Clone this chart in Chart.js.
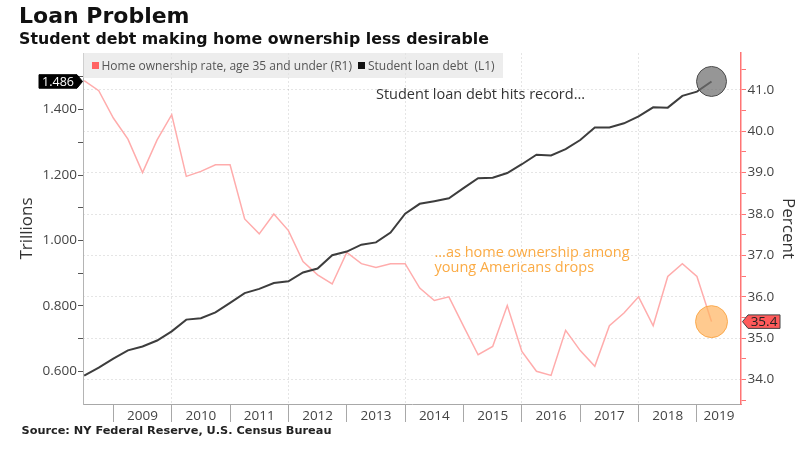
<!DOCTYPE html>
<html>
<head>
<meta charset="UTF-8">
<title>Loan Problem</title>
<script src="https://cdn.jsdelivr.net/npm/chart.js"></script>
<style>
  html, body { margin: 0; padding: 0; background: #fff; }
  #wrap { position: relative; width: 800px; height: 460px; overflow: hidden; }
  canvas { position: absolute; left: 0; top: 0; }
  .head { position: absolute; white-space: nowrap; font-family: "DejaVu Sans", sans-serif; font-weight: bold; color: #111; }
  #title { left: 19px; top: 5.4px; font-size: 22px; line-height: 22px; }
  #subtitle { left: 19px; top: 30.9px; font-size: 15.8px; line-height: 15.8px; }
  #source { left: 21.5px; top: 424.7px; font-size: 11.3px; line-height: 11.3px; color: #222; }
  #legend {
    position: absolute; left: 83px; top: 53px; width: 420px; height: 25px;
    background: rgba(225,225,225,0.6); font-family: "Open Sans", sans-serif; font-size: 12px; color: #555;
  }
  .item { position: absolute; top: 0; height: 25px; display: flex; align-items: center; white-space: nowrap; }
  .sq { width: 7px; height: 7px; margin-right: 3px; }
</style>
</head>
<body>
<div id="wrap">
  <canvas id="chart" width="800" height="460"></canvas>
  <div id="title" class="head">Loan Problem</div>
  <div id="subtitle" class="head">Student debt making home ownership less desirable</div>
  <div id="legend">
    <div class="item" style="left:8.5px"><span class="sq" style="background:#ff6262"></span>Home ownership rate, age 35 and under (R1)</div>
    <div class="item" style="left:275px"><span class="sq" style="background:#111"></span>Student loan debt&nbsp; (L1)</div>
  </div>
  <div id="source" class="head">Source: NY Federal Reserve, U.S. Census Bureau</div>
</div>
<script>
  // quarterly data, plotted at quarter end
  const quarters = [
    '2008 Q2', '2008 Q3', '2008 Q4',
    '2009 Q1', '2009 Q2', '2009 Q3', '2009 Q4',
    '2010 Q1', '2010 Q2', '2010 Q3', '2010 Q4',
    '2011 Q1', '2011 Q2', '2011 Q3', '2011 Q4',
    '2012 Q1', '2012 Q2', '2012 Q3', '2012 Q4',
    '2013 Q1', '2013 Q2', '2013 Q3', '2013 Q4',
    '2014 Q1', '2014 Q2', '2014 Q3', '2014 Q4',
    '2015 Q1', '2015 Q2', '2015 Q3', '2015 Q4',
    '2016 Q1', '2016 Q2', '2016 Q3', '2016 Q4',
    '2017 Q1', '2017 Q2', '2017 Q3', '2017 Q4',
    '2018 Q1', '2018 Q2', '2018 Q3', '2018 Q4',
    '2019 Q1'
  ];
  // Student loan debt, trillions (L1)
  const studentDebt = [
    0.587, 0.611, 0.639,
    0.664, 0.676, 0.694, 0.722,
    0.758, 0.762, 0.780, 0.809,
    0.839, 0.852, 0.870, 0.875,
    0.902, 0.914, 0.955, 0.966,
    0.987, 0.994, 1.024, 1.082,
    1.112, 1.120, 1.129, 1.160,
    1.190, 1.192, 1.206, 1.233,
    1.262, 1.260, 1.279, 1.307,
    1.345, 1.345, 1.358, 1.379,
    1.407, 1.406, 1.442, 1.455,
    1.486
  ];
  // Home ownership rate, age 35 and under, percent (R1)
  const homeOwnership = [
    41.22, 40.98, 40.32,
    39.81, 39.00, 39.79, 40.40,
    38.91, 39.03, 39.19, 39.19,
    37.88, 37.52, 38.00, 37.60,
    36.85, 36.53, 36.31, 37.07,
    36.80, 36.71, 36.80, 36.80,
    36.21, 35.91, 36.00, 35.29,
    34.60, 34.80, 35.79, 34.68,
    34.20, 34.10, 35.19, 34.70,
    34.32, 35.30, 35.61, 36.00,
    35.30, 36.49, 36.80, 36.49,
    35.40
  ];
  const yearLabels = ['2009', '2010', '2011', '2012', '2013', '2014', '2015', '2016', '2017', '2018', '2019'];
  const debtTicks = [0.6, 0.7, 0.8, 0.9, 1.0, 1.1, 1.2, 1.3, 1.4, 1.5];
  const percentTicks = [33.5, 34, 34.5, 35, 35.5, 36, 36.5, 37, 37.5, 38, 38.5, 39, 39.5, 40, 40.5, 41, 41.5];

  const X_MIN = 2008.48, X_MAX = 2019.755;
  const qx = q => +q.slice(0, 4) + +q.slice(-1) / 4;

  const xTicks = [];
  yearLabels.forEach(y => {
    const start = +y;
    xTicks.push({ value: start, sep: true, even: start % 2 === 0, text: '' });
    xTicks.push({ value: (start + Math.min(start + 1, X_MAX)) / 2, sep: false, text: y });
  });
  xTicks.sort((a, b) => a.value - b.value);

  const tickFont = { family: 'Open Sans', size: 13.5 };
  const dotted = 'rgba(0,0,0,0.1)';
  const none = 'rgba(0,0,0,0)';
  const axisRed = '#ff7474';

  function circle(ctx, x, y, r, fill, stroke) {
    ctx.beginPath();
    ctx.arc(x, y, r, 0, Math.PI * 2);
    ctx.fillStyle = fill;
    ctx.fill();
    ctx.lineWidth = 1;
    ctx.strokeStyle = stroke;
    ctx.stroke();
  }

  function tag(ctx, tipX, y, dir, bodyW, fill, stroke, color, text, size) {
    const h = 13.5, a = 5.5;
    const base = tipX - dir * a, far = base - dir * bodyW;
    ctx.beginPath();
    ctx.moveTo(tipX, y);
    ctx.lineTo(base, y - h / 2);
    ctx.lineTo(far, y - h / 2);
    ctx.lineTo(far, y + h / 2);
    ctx.lineTo(base, y + h / 2);
    ctx.closePath();
    ctx.fillStyle = fill;
    ctx.fill();
    ctx.lineWidth = 1;
    ctx.strokeStyle = stroke;
    ctx.stroke();
    ctx.fillStyle = color;
    ctx.font = size + 'px "Open Sans"';
    ctx.textAlign = 'center';
    ctx.textBaseline = 'middle';
    ctx.fillText(text, (base + far) / 2, y + 0.5);
  }

  const markers = {
    id: 'markers',
    afterDatasetsDraw(chart) {
      const { ctx, scales: { x, y1, y2 } } = chart;
      const lastX = x.getPixelForValue(qx(quarters[quarters.length - 1]));
      ctx.save();
      circle(ctx, lastX, y1.getPixelForValue(studentDebt[studentDebt.length - 1]), 15, 'rgba(110,110,110,0.72)', '#4d4d4d');
      circle(ctx, lastX, y2.getPixelForValue(homeOwnership[homeOwnership.length - 1]), 16, 'rgba(255,180,95,0.7)', 'rgba(250,165,70,0.9)');

      ctx.font = '14.5px "Open Sans"';
      ctx.textAlign = 'left';
      ctx.textBaseline = 'middle';
      ctx.fillStyle = '#333';
      ctx.fillText('Student loan debt hits record...', x.getPixelForValue(2013.5), y1.getPixelForValue(1.4447));
      ctx.fillStyle = '#fbab45';
      ctx.fillText('...as home ownership among', x.getPixelForValue(2014.503), y2.getPixelForValue(37.07));
      ctx.fillText('young Americans drops', x.getPixelForValue(2014.503), y2.getPixelForValue(36.696));
      ctx.restore();
    },
    afterDraw(chart) {
      const { ctx, chartArea, scales: { y1, y2 } } = chart;
      const lastDebt = studentDebt[studentDebt.length - 1];
      const lastHome = homeOwnership[homeOwnership.length - 1];
      ctx.save();
      tag(ctx, chartArea.left - 0.5, y1.getPixelForValue(lastDebt), 1, 38, '#000', '#000', '#fff', lastDebt.toFixed(3), 12.5);
      tag(ctx, chartArea.right + 1.5, y2.getPixelForValue(lastHome), -1, 32, '#ff5a5a', '#444', '#222', lastHome.toFixed(1), 13.5);
      ctx.restore();
    }
  };

  new Chart(document.getElementById('chart'), {
    type: 'line',
    data: {
      datasets: [
        {
          label: 'Student loan debt (L1)',
          data: quarters.map((q, i) => ({ x: qx(q), y: studentDebt[i] })),
          yAxisID: 'y1',
          borderColor: '#3d3d3d',
          borderWidth: 2,
          pointRadius: 0,
          tension: 0
        },
        {
          label: 'Home ownership rate, age 35 and under (R1)',
          data: quarters.map((q, i) => ({ x: qx(q), y: homeOwnership[i] })),
          yAxisID: 'y2',
          borderColor: '#ffacac',
          borderWidth: 1.5,
          pointRadius: 0,
          tension: 0
        }
      ]
    },
    options: {
      responsive: false,
      maintainAspectRatio: false,
      devicePixelRatio: 1,
      animation: false,
      events: [],
      layout: { padding: { top: 53, left: 0, right: 0, bottom: 0 } },
      plugins: { legend: { display: false }, tooltip: { enabled: false } },
      scales: {
        x: {
          type: 'linear',
          min: X_MIN,
          max: X_MAX,
          afterBuildTicks: s => { s.ticks = xTicks.map(t => ({ ...t })); },
          afterFit: s => { s.height = 56; },
          ticks: {
            autoSkip: false,
            maxRotation: 0,
            padding: -14,
            color: '#444',
            font: tickFont,
            callback: (v, i) => xTicks[i] ? xTicks[i].text : ''
          },
          grid: {
            color: c => (c.tick && c.tick.even) ? dotted : none,
            tickColor: c => (c.tick && c.tick.sep) ? '#a8a8a8' : none,
            tickLength: 18,
            lineWidth: 1
          },
          border: { color: '#a8a8a8', dash: [2, 2] }
        },
        y1: {
          type: 'linear',
          position: 'left',
          min: 0.5,
          max: 1.573,
          afterBuildTicks: s => { s.ticks = debtTicks.map(v => ({ value: v })); },
          afterFit: s => { s.width = 83; },
          ticks: {
            padding: 1,
            color: '#444',
            font: tickFont,
            callback: v => Math.round(v * 10) % 2 === 0 ? v.toFixed(3) : ''
          },
          grid: { drawOnChartArea: false, tickLength: 5, tickColor: '#555' },
          border: { color: '#b4b4b4' },
          title: {
            display: true,
            text: 'Trillions',
            color: '#333',
            font: { family: 'Open Sans', size: 17 },
            padding: { top: 17, bottom: 0 }
          }
        },
        y2: {
          type: 'linear',
          position: 'right',
          min: 33.41,
          max: 41.89,
          afterBuildTicks: s => { s.ticks = percentTicks.map(v => ({ value: v })); },
          afterFit: s => { s.width = 59; },
          ticks: {
            padding: 1.5,
            color: '#444',
            font: tickFont,
            callback: v => Number.isInteger(v) ? v.toFixed(1) : ''
          },
          grid: {
            color: c => (c.tick && Number.isInteger(c.tick.value)) ? dotted : none,
            tickColor: axisRed,
            tickLength: 5
          },
          border: { color: axisRed, width: 1.5, dash: [2, 2] },
          title: {
            display: true,
            text: 'Percent',
            color: '#333',
            font: { family: 'Open Sans', size: 17 },
            padding: { top: 1.5, bottom: 0 }
          }
        }
      }
    },
    plugins: [markers]
  });
</script>
</body>
</html>
